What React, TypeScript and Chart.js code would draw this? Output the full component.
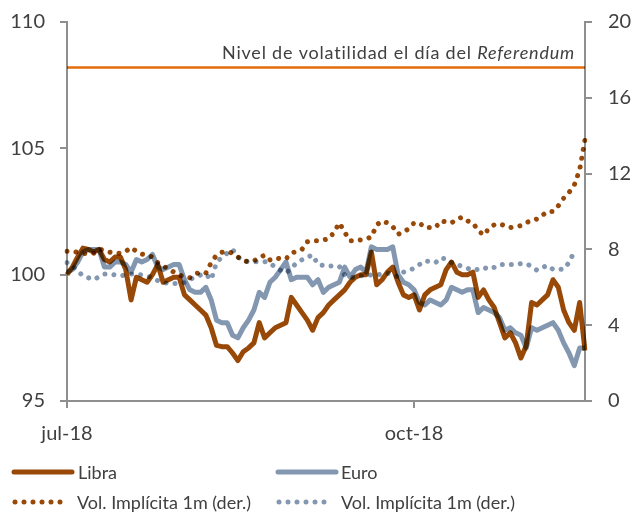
import React, { useEffect, useRef } from 'react';
import { Chart, registerables } from 'chart.js';

Chart.register(...registerables);

// Business days (categories), per month of 2018
const JUL_DAYS = [2, 3, 4, 5, 6, 9, 10, 11, 12, 13, 16, 17, 18, 19, 20, 23, 24, 25, 26, 27, 30, 31];
const AUG_DAYS = [1, 2, 3, 6, 7, 8, 9, 10, 13, 14, 15, 16, 17, 20, 21, 22, 23, 24, 27, 28, 29, 30, 31];
const SEP_DAYS = [3, 4, 5, 6, 7, 10, 11, 12, 13, 14, 17, 18, 19, 20, 21, 24, 25, 26, 27, 28];
const OCT_DAYS = [1, 2, 3, 4, 5, 8, 9, 10, 11, 12, 15, 16, 17, 18, 19, 22, 23, 24, 25, 26, 29, 30, 31];
const NOV_DAYS = [1, 2, 5, 6, 7, 8, 9, 12, 13, 14];
const MONTHS: [string, number[]][] = [
  ['07', JUL_DAYS],
  ['08', AUG_DAYS],
  ['09', SEP_DAYS],
  ['10', OCT_DAYS],
  ['11', NOV_DAYS],
];
const DATES: string[] = MONTHS.flatMap(([m, days]) =>
  days.map((d) => `2018-${m}-${String(d).padStart(2, '0')}`)
);

const TICK_DATES = ['2018-07-02', '2018-10-01'];
const TICK_LABELS = ['jul-18', 'oct-18'];

// Index (left axis)
const LIBRA = [
  100.0, 100.3, 100.7, 101.05, 101.0, 100.9, 101.0, 100.6, 100.5, 100.7,
  100.7, 100.2, 99.0, 99.9, 99.8, 99.7, 100.0, 100.4, 99.7, 99.8,
  99.9, 99.9, 99.2, 99.0, 98.8, 98.6, 98.4, 97.9, 97.2, 97.15,
  97.15, 96.9, 96.6, 96.95, 97.1, 97.3, 98.1, 97.5, 97.7, 97.9,
  98.0, 98.1, 99.1, 98.8, 98.5, 98.2, 97.8, 98.3, 98.5, 98.8,
  99.0, 99.2, 99.4, 99.7, 99.9, 100.0, 100.0, 100.9, 99.6, 99.8,
  100.1, 100.3, 99.7, 99.2, 99.1, 99.2, 98.6, 99.2, 99.4, 99.5,
  99.6, 100.2, 100.5, 100.1, 100.0, 100.0, 100.1, 99.1, 99.4, 99.0,
  98.7, 98.1, 97.5, 97.7, 97.3, 96.7, 97.2, 98.9, 98.8, 99.0,
  99.2, 99.8, 99.5, 98.6, 98.1, 97.8, 98.9, 97.0,
];
const EURO = [
  100.1, 100.2, 100.5, 100.9, 101.0, 101.0, 101.0, 100.3, 100.3, 100.5,
  100.5, 100.4, 100.1, 100.6, 100.5, 100.6, 100.8, 100.3, 100.2, 100.3,
  100.4, 100.4, 99.8, 99.4, 99.3, 99.3, 99.5, 99.0, 98.2, 98.1,
  98.1, 97.6, 97.5, 97.9, 98.2, 98.6, 99.3, 99.1, 99.7, 99.9,
  100.2, 100.5, 99.8, 99.9, 99.9, 99.9, 99.6, 99.8, 99.3, 99.5,
  99.6, 99.7, 100.3, 99.9, 100.2, 100.3, 100.1, 101.1, 101.0, 101.0,
  101.0, 101.1, 100.0, 99.7, 99.6, 99.4, 98.9, 98.8, 99.0, 98.9,
  98.8, 99.0, 99.5, 99.4, 99.3, 99.4, 99.4, 98.5, 98.7, 98.6,
  98.5, 98.3, 97.8, 97.9, 97.7, 97.6, 97.1, 97.9, 97.8, 97.9,
  98.0, 98.1, 97.8, 97.3, 96.9, 96.4, 97.1, 97.1,
];
// Implied 1m volatility (right axis)
const VOL_LIBRA = [
  7.9, 7.9, 7.85, 7.8, 7.75, 7.8, 8.0, 7.95, 7.85, 7.8,
  7.8, 7.9, 8.1, 7.9, 7.75, 7.7, 7.6, 7.3, 7.1, 7.0,
  6.8, 6.65, 6.55, 6.5, 6.7, 6.8, 6.75, 7.3, 7.7, 7.85,
  7.9, 7.8, 7.6, 7.4, 7.35, 7.4, 7.55, 7.7, 7.45, 7.55,
  7.5, 7.5, 7.8, 7.9, 8.0, 8.4, 8.45, 8.45, 8.5, 8.55,
  8.9, 9.4, 8.9, 8.45, 8.45, 8.5, 8.55, 8.65, 9.3, 9.5,
  9.4, 9.2, 8.8, 8.9, 9.1, 9.4, 9.4, 9.15, 9.15, 9.15,
  9.5, 9.45, 9.4, 9.6, 9.7, 9.5, 9.4, 9.0, 8.75, 9.1,
  9.3, 9.35, 9.25, 9.15, 9.2, 9.25, 9.4, 9.55, 9.6, 9.8,
  10.0, 10.0, 10.3, 10.7, 11.0, 11.4, 12.2, 13.8,
];
const VOL_EURO = [
  7.3, 7.15, 6.85, 6.6, 6.5, 6.4, 6.55, 6.7, 6.7, 6.65,
  6.6, 6.65, 6.7, 6.7, 6.65, 6.6, 6.5, 6.35, 6.25, 6.2,
  6.2, 6.2, 6.25, 6.4, 6.55, 6.65, 6.7, 6.4, 7.3, 7.6,
  7.8, 8.0, 7.6, 7.4, 7.35, 7.35, 7.35, 7.35, 7.3, 7.05,
  6.9, 6.75, 7.0, 7.3, 7.45, 7.6, 7.7, 7.2, 7.15, 7.1,
  7.15, 7.1, 6.65, 6.55, 6.5, 6.6, 6.65, 6.65, 6.65, 6.7,
  6.75, 6.65, 6.55, 6.8, 6.9, 7.0, 7.2, 7.4, 7.35, 7.3,
  7.55, 7.5, 7.3, 7.2, 7.1, 7.0, 6.9, 6.95, 7.05, 6.95,
  7.05, 7.2, 7.2, 7.2, 7.2, 7.25, 7.25, 7.1, 6.9, 7.05,
  7.15, 6.95, 6.95, 6.95, 7.3, 7.9, null, null,
];
// Volatility level on the day of the Referendum (right axis)
const REF_LEVEL = 17.6;

const SERIES_NAMES = ['Libra', 'Euro', 'Vol. Implícita 1m (der.)', 'Vol. Implícita 1m (der.)'];
const REF_TEXT = 'Nivel de volatilidad el día del';
const REF_ITALIC = 'Referendum';

const LIBRA_COLOR = '#984807';
const EURO_COLOR = '#8497B0';
const REF_COLOR = '#E46C0A';
const AXIS_COLOR = '#8f8f8f';
const TEXT_COLOR = '#404040';
const FONT = 'Lato';
const DOT_DASH = [0.001, 9];

const multiplyPlugin = {
  id: 'multiplyBlend',
  beforeDatasetsDraw(chart: any) {
    chart.ctx.save();
    chart.ctx.globalCompositeOperation = 'multiply';
  },
  afterDatasetsDraw(chart: any) {
    chart.ctx.restore();
  },
};

const refLabelPlugin = {
  id: 'refLabel',
  afterDatasetsDraw(chart: any) {
    const { ctx, chartArea, scales } = chart;
    const y = scales.y1.getPixelForValue(REF_LEVEL);
    const xr = chartArea.right - 10;
    ctx.save();
    ctx.fillStyle = TEXT_COLOR;
    ctx.textBaseline = 'alphabetic';
    ctx.textAlign = 'right';
    (ctx as any).letterSpacing = '0.8px';
    ctx.font = `italic 18px ${FONT}`;
    ctx.fillText(REF_ITALIC, xr, y - 8);
    const w = ctx.measureText(REF_ITALIC).width;
    ctx.font = `18px ${FONT}`;
    ctx.fillText(REF_TEXT + ' ', xr - w, y - 8);
    ctx.restore();
  },
};

const legendPlugin = {
  id: 'customLegend',
  afterDraw(chart: any) {
    const ctx = chart.ctx;
    const items = [
      { name: SERIES_NAMES[0], color: LIBRA_COLOR, dotted: false, x0: 14, x1: 72, tx: 78, y: 472 },
      { name: SERIES_NAMES[1], color: EURO_COLOR, dotted: false, x0: 278, x1: 336, tx: 341, y: 472 },
      { name: SERIES_NAMES[2], color: LIBRA_COLOR, dotted: true, x0: 15, x1: 61, tx: 77, y: 502 },
      { name: SERIES_NAMES[3], color: EURO_COLOR, dotted: true, x0: 279, x1: 325, tx: 341, y: 502 },
    ];
    ctx.save();
    for (const it of items) {
      ctx.beginPath();
      ctx.strokeStyle = it.color;
      ctx.lineWidth = 5;
      ctx.lineCap = 'round';
      ctx.setLineDash(it.dotted ? DOT_DASH : []);
      ctx.moveTo(it.x0, it.y);
      ctx.lineTo(it.x1, it.y);
      ctx.stroke();
      ctx.setLineDash([]);
      ctx.fillStyle = TEXT_COLOR;
      ctx.font = `18px ${FONT}`;
      ctx.textAlign = 'left';
      ctx.textBaseline = 'alphabetic';
      ctx.fillText(it.name, it.tx, it.y + 6.5);
    }
    ctx.restore();
  },
};

export default function App() {
  const ref = useRef<HTMLCanvasElement | null>(null);

  useEffect(() => {
    if (!ref.current) return;
    Chart.defaults.font.family = FONT;
    const tickGrid = {
      display: true,
      drawOnChartArea: false,
      drawTicks: true,
      tickLength: 7,
      color: AXIS_COLOR,
      lineWidth: 2,
    };
    const border = { display: true, color: AXIS_COLOR, width: 2 };
    const tickFont = { size: 20, family: FONT };

    const chart = new Chart(ref.current, {
      type: 'line',
      data: {
        labels: DATES,
        datasets: [
          {
            label: SERIES_NAMES[0],
            data: LIBRA,
            yAxisID: 'y',
            borderColor: LIBRA_COLOR,
            borderWidth: 5,
            pointRadius: 0,
            borderJoinStyle: 'round',
            tension: 0,
          },
          {
            label: SERIES_NAMES[1],
            data: EURO,
            yAxisID: 'y',
            borderColor: EURO_COLOR,
            borderWidth: 5,
            pointRadius: 0,
            borderJoinStyle: 'round',
            tension: 0,
          },
          {
            label: SERIES_NAMES[2],
            data: VOL_LIBRA,
            yAxisID: 'y1',
            borderColor: LIBRA_COLOR,
            borderWidth: 5,
            borderDash: DOT_DASH,
            borderCapStyle: 'round',
            pointRadius: 0,
            tension: 0,
          },
          {
            label: SERIES_NAMES[3],
            data: VOL_EURO,
            yAxisID: 'y1',
            borderColor: EURO_COLOR,
            borderWidth: 5,
            borderDash: DOT_DASH,
            borderCapStyle: 'round',
            pointRadius: 0,
            tension: 0,
          },
          {
            label: 'ref',
            data: DATES.map(() => REF_LEVEL),
            yAxisID: 'y1',
            borderColor: REF_COLOR,
            borderWidth: 2.5,
            pointRadius: 0,
            tension: 0,
          },
        ],
      } as any,
      options: {
        responsive: false,
        animation: false,
        events: [],
        layout: { padding: { top: 22, left: 0, right: 0, bottom: 0 } },
        plugins: {
          legend: { display: false },
          tooltip: { enabled: false },
        },
        scales: {
          x: {
            type: 'category',
            offset: false,
            grid: tickGrid,
            border,
            ticks: {
              autoSkip: false,
              maxRotation: 0,
              color: TEXT_COLOR,
              font: tickFont,
              padding: 14,
              callback: (value: any) => {
                const i = TICK_DATES.findIndex((d) => DATES.indexOf(d) === value);
                return i >= 0 ? TICK_LABELS[i] : '';
              },
            },
            afterBuildTicks: (scale: any) => {
              scale.ticks = TICK_DATES.map((d) => ({ value: DATES.indexOf(d) }));
            },
            afterFit: (scale: any) => {
              scale.height = 113;
            },
          },
          y: {
            position: 'left',
            min: 95,
            max: 110,
            grid: tickGrid,
            border,
            ticks: { stepSize: 5, color: TEXT_COLOR, font: tickFont, padding: 15 },
            afterFit: (scale: any) => {
              scale.width = 67;
              scale.paddingTop = 0;
              scale.paddingBottom = 0;
            },
          },
          y1: {
            position: 'right',
            min: 0,
            max: 20,
            grid: tickGrid,
            border,
            ticks: { stepSize: 4, color: TEXT_COLOR, font: tickFont, padding: 16 },
            afterFit: (scale: any) => {
              scale.width = 52;
              scale.paddingTop = 0;
              scale.paddingBottom = 0;
            },
          },
        },
      } as any,
      plugins: [multiplyPlugin, refLabelPlugin, legendPlugin],
    });
    return () => chart.destroy();
  }, []);

  return (
    <div style={{ position: 'fixed', left: 0, top: 0, width: 637, height: 514, background: '#fff' }}>
      <canvas ref={ref} width={637} height={514} style={{ display: 'block' }} />
    </div>
  );
}
